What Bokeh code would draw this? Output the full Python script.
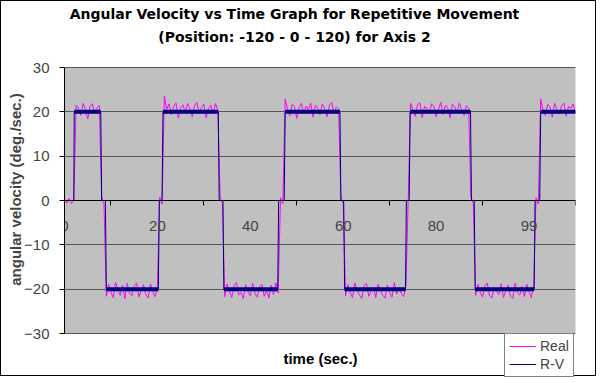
from bokeh.plotting import figure
from bokeh.models import (Label, Legend, LegendItem, FixedTicker, BoxAnnotation,
                          LinearAxis, Range1d, ColumnDataSource)
from bokeh.embed import file_html
from bokeh.resources import INLINE

# ---------------- data ----------------
title_line1 = "Angular Velocity vs Time Graph for Repetitive Movement"
title_line2 = "(Position: -120 - 0 - 120) for Axis 2"
x_label = "time (sec.)"
y_label = "angular velocity (deg./sec.)"

y_ticks = [-30, -20, -10, 0, 10, 20, 30]
x_label_ticks = [0, 20, 40, 60, 80, 100]
x_label_texts = ["0", "20", "40", "60", "80", "99"]
x_minor_ticks = [10, 30, 50, 70, 90, 110]
x_lo, x_hi = 0, 110
y_lo, y_hi = -30, 30

sample_step = 0.5  # seconds between samples of the measured curve

# "Real" (measured) angular velocity, segment by segment
real_start = [0.4, -0.6, 0.5, -0.7, 0.0]
real_up1 = [21.5, 20.8, 19.2, 21.9, 20.6, 18.4, 21.3, 21.8, 19.7, 20.9, 21.4]
real_x1 = [0.9, -0.7]
real_dn1 = [-21.6, -18.9, -20.7, -21.9, -18.5, -20.3, -21.4, -19.1, -22.2, -18.7, -20.9, -21.5,
            -19.3, -18.6, -21.8, -20.4, -19.0, -21.2, -22.0, -18.8, -20.6, -21.7, -19.4]
real_x2 = [0.7, -0.8]
real_up2 = [23.6, 20.5, 21.8, 19.3, 21.2, 22.0, 18.6, 20.9, 21.6, 19.8, 21.9, 20.7,
            18.9, 21.4, 22.1, 19.5, 21.0, 21.7, 18.7, 20.8, 21.5, 19.6, 21.9, 20.4]
real_x3 = [0.8, -0.6]
real_dn2 = [-21.7, -18.8, -20.5, -21.9, -19.2, -18.5, -21.3, -20.8, -22.1, -19.0, -20.6, -21.5,
            -18.7, -21.0, -21.8, -19.4, -18.9, -21.6, -20.3, -22.0, -19.1, -21.2, -18.6, -20.9]
real_x4 = [0.6, -0.7]
real_up3 = [22.9, 20.6, 19.1, 21.7, 21.2, 18.5, 20.9, 21.9, 19.6, 21.3, 20.5, 22.0,
            18.8, 21.5, 21.0, 19.4, 21.8, 20.7, 18.9, 21.4, 22.1, 19.7, 21.1, 20.6]
real_x5 = [0.7, -0.6]
real_dn3 = [-21.5, -19.0, -20.8, -21.9, -18.6, -20.4, -21.3, -22.1, -19.2, -18.7, -21.6, -20.6,
            -19.5, -21.9, -18.9, -20.2, -21.4, -22.0, -19.1, -20.7, -21.8, -18.5, -21.1, -19.6,
            -20.9, -21.7, -19.3]
real_x6 = [0.7]
real_up4 = [21.9, 20.4, 19.0, 21.6, 22.0, 18.7, 21.2, 20.8, 19.5, 21.8, 21.3, 18.9, 20.6,
            22.1, 19.4, 21.5, 20.9, 18.6, 21.7, 21.1, 19.8, 22.0, 20.5, 19.2, 21.4, 20.8]
real_x7 = [0.8, -0.7]
real_dn4 = [-21.4, -18.9, -20.7, -21.8, -19.3, -18.6, -21.5, -22.0, -19.6, -20.5, -21.2, -18.8,
            -21.9, -20.3, -19.1, -21.6, -22.1, -18.7, -20.8, -21.3, -19.4, -21.7, -18.9, -20.6,
            -21.9, -19.2]
real_x8 = [0.6, -0.8]
real_up5 = [22.9, 20.5, 19.2, 21.7, 21.1, 18.8, 21.9, 20.6, 19.5, 21.4, 22.0, 19.0,
            21.2, 20.7, 21.8, 19.6]

# "R-V" (reference) angular velocity: breakpoints of the square wave
rv_time = [0, 2.0, 2.1, 7.8, 8.0, 8.8, 9.0,
           20.2, 20.4, 21.0, 21.2, 33.1, 33.3, 34.1, 34.3,
           45.9, 46.1, 47.3, 47.5, 59.3, 59.5, 60.1, 60.3,
           73.4, 73.6, 74.2, 74.4, 87.4, 87.6, 88.2, 88.4,
           101.1, 101.3, 102.3, 102.5, 110]
rv_value = [0, 0, 20, 20, 0, 0, -20,
            -20, 0, 0, 20, 20, 0, 0, -20,
            -20, 0, 0, 20, 20, 0, 0, -20,
            -20, 0, 0, 20, 20, 0, 0, -20,
            -20, 0, 0, 20, 20]

real = (real_start + real_up1 + real_x1 + real_dn1 + real_x2 + real_up2 + real_x3 + real_dn2 +
        real_x4 + real_up3 + real_x5 + real_dn3 + real_x6 + real_up4 + real_x7 + real_dn4 +
        real_x8 + real_up5)
real_time = [i * sample_step for i in range(len(real))]

real_src = ColumnDataSource(dict(t=real_time, v=real))
rv_src = ColumnDataSource(dict(t=rv_time, v=rv_value))

# held (non-zero) levels of the R-V curve, drawn heavier as in the original
plat = dict(x0=[], x1=[], y=[])
for i in range(len(rv_time) - 1):
    if rv_value[i] == rv_value[i + 1] and rv_value[i] != 0:
        plat["x0"].append(rv_time[i])
        plat["x1"].append(rv_time[i + 1])
        plat["y"].append(rv_value[i])
plat_src = ColumnDataSource(plat)

# ---------------- layout (pixels inside the chart box) ----------------
FIG_W, FIG_H = 596, 376
PLOT_LEFT, PLOT_RIGHT = 63, 574      # x of the plot area's left / right edge
PLOT_TOP, PLOT_BOTTOM = 66, 332      # y of the +30 / -30 lines
ppu_y = (PLOT_BOTTOM - PLOT_TOP) / (y_hi - y_lo)
ppu_x = (PLOT_RIGHT - PLOT_LEFT) / (x_hi - x_lo)


def y_at(py):
    return y_hi + (PLOT_TOP - py) / ppu_y


def x_at(px):
    return x_lo + (px - PLOT_LEFT) / ppu_x


p = figure(width=FIG_W, height=FIG_H, output_backend="svg", toolbar_location=None,
           x_range=Range1d(x_lo, x_hi), y_range=Range1d(y_at(FIG_H), y_at(0)),
           x_axis_location=None, title=None,
           min_border_left=PLOT_LEFT, min_border_right=FIG_W - PLOT_RIGHT,
           min_border_top=0, min_border_bottom=0,
           background_fill_color="white", border_fill_color="white")
p.styles = {"border": "1px solid black"}
p.outline_line_color = None

# grey plot area
p.add_layout(BoxAnnotation(bottom=y_lo, top=y_hi, fill_color="#C0C0C0", fill_alpha=1,
                           line_color="#808080", line_width=1, level="image"))

# y axis
yax = p.yaxis[0]
yax.bounds = (y_lo, y_hi)
yax.ticker = FixedTicker(ticks=y_ticks)
yax.axis_label = y_label
yax.axis_label_text_font = "Liberation Sans"
yax.axis_label_text_font_style = "bold"
yax.axis_label_text_font_size = "15px"
yax.axis_label_standoff = -3
yax.major_label_text_font = "Liberation Sans"
yax.major_label_text_font_size = "15px"
yax.major_label_standoff = 10
yax.major_tick_out = 5
yax.major_tick_in = 0
yax.minor_tick_out = 0
yax.minor_tick_in = 0
yax.axis_line_color = "black"
yax.major_tick_line_color = "black"

p.ygrid.ticker = FixedTicker(ticks=y_ticks)
p.ygrid.grid_line_color = "#555555"
p.xgrid.grid_line_color = None

# x axis drawn along y = 0
xax = LinearAxis(fixed_location=0,
                 ticker=FixedTicker(ticks=x_label_ticks, minor_ticks=x_minor_ticks),
                 major_label_overrides={k: v for k, v in zip(x_label_ticks, x_label_texts)})
xax.major_tick_out = 0
xax.major_tick_in = 0
xax.minor_tick_out = 5
xax.minor_tick_in = 0
xax.major_label_standoff = 15
xax.major_label_text_font = "Liberation Sans"
xax.major_label_text_font_size = "15px"
xax.axis_line_color = "black"
xax.minor_tick_line_color = "black"
p.add_layout(xax, "below")

# titles and x-axis title
for txt, py in ((title_line1, 12), (title_line2, 35)):
    p.add_layout(Label(x=x_at(293), y=y_at(py), text=txt,
                       text_align="center", text_baseline="middle",
                       text_font="DejaVu Sans", text_font_style="bold",
                       text_font_size="14px", text_color="black"))
p.add_layout(Label(x=x_at(319), y=y_at(357), text=x_label,
                   text_align="center", text_baseline="middle",
                   text_font="Liberation Sans", text_font_style="bold",
                   text_font_size="15px", text_color="black"))

r_real = p.line("t", "v", source=real_src, line_color="#FF00FF", line_width=1)
r_rv = p.line("t", "v", source=rv_src, line_color="#000080", line_width=1)
p.segment("x0", "y", "x1", "y", source=plat_src, line_color="#000080", line_width=4)

legend = Legend(items=[LegendItem(label="Real", renderers=[r_real]),
                       LegendItem(label="R-V", renderers=[r_rv])],
                location=(440, 0))
legend.border_line_color = "black"
legend.border_line_width = 1
legend.background_fill_color = "white"
legend.background_fill_alpha = 1
legend.label_text_font = "Liberation Sans"
legend.label_text_font_size = "14px"
legend.glyph_width = 27
legend.glyph_height = 16
legend.label_height = 16
legend.label_standoff = 4
legend.spacing = 2
legend.padding = 4
legend.margin = 0
p.add_layout(legend)

open("out.html", "w").write(file_html(p, INLINE))
